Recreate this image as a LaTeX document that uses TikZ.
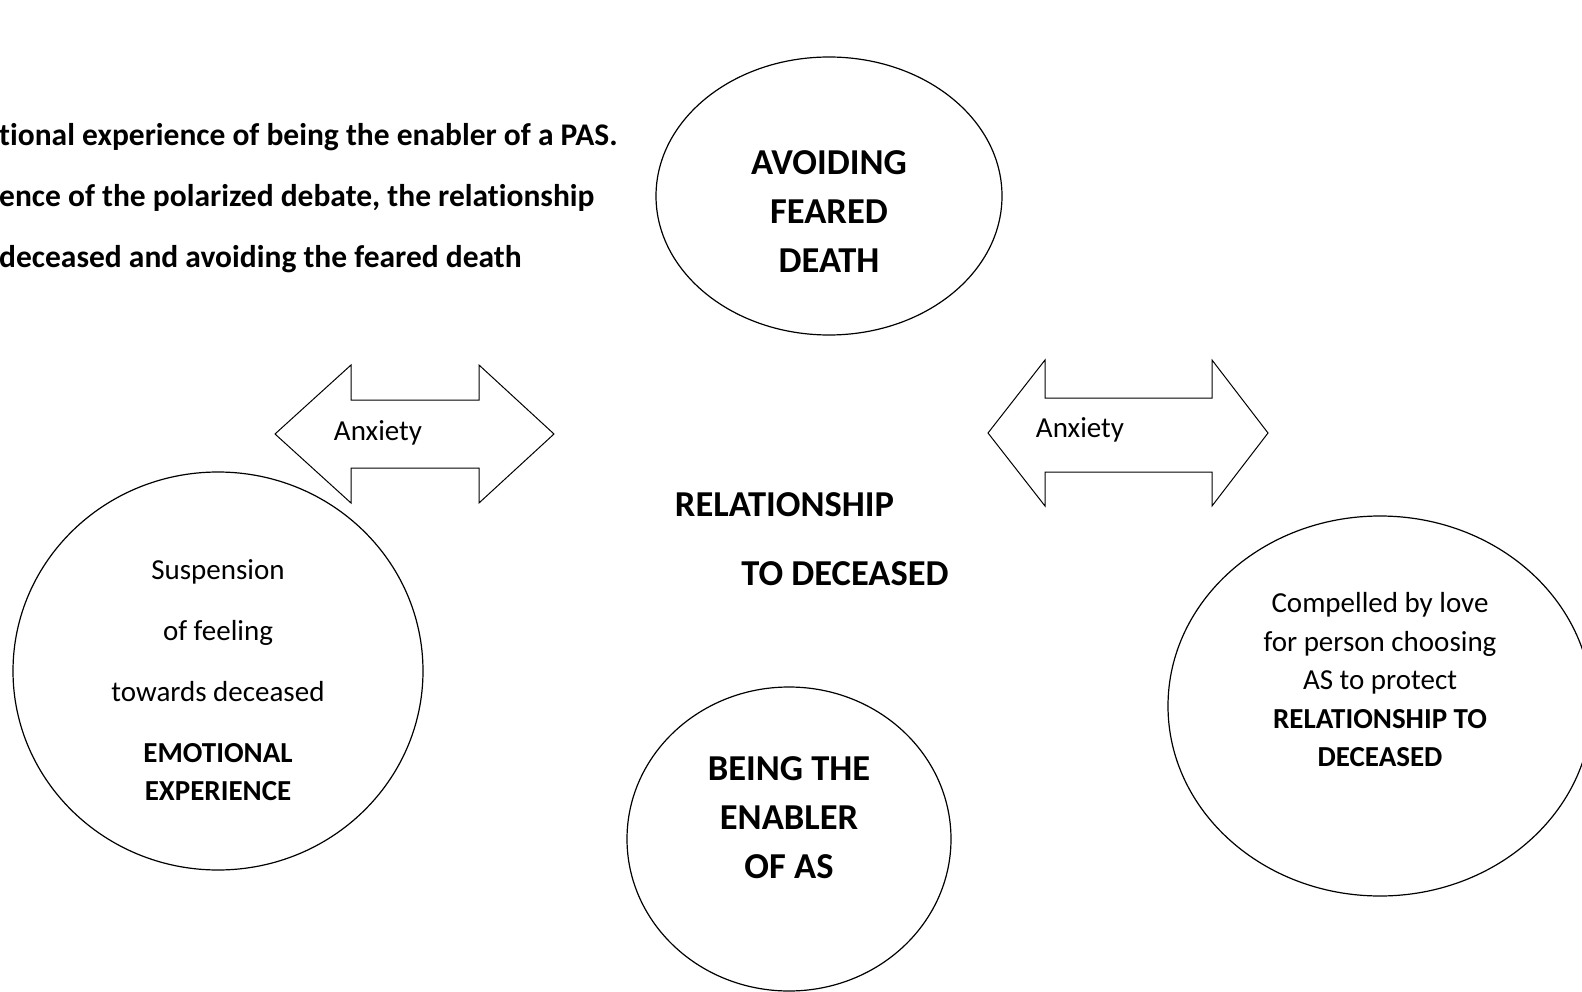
\documentclass[tikz,border=0pt]{standalone}
\usepackage{fontspec}
\setmainfont{Carlito}[Ligatures=NoCommon]
\usetikzlibrary{shapes.geometric}
\begin{document}
\begin{tikzpicture}[x=1pt,y=-1pt,
  ring/.style={draw, ellipse, line width=1.2pt, inner sep=0pt},
  bigbold/.style={font=\fontsize{36.5}{49}\selectfont\bfseries, align=center, inner sep=0pt},
  body/.style={font=\fontsize{29}{38.5}\selectfont, align=center, inner sep=0pt},
  lead/.style={font=\fontsize{31.5}{61}\selectfont\bfseries, align=left, inner sep=0pt},
  twoway/.style={draw, line width=1pt, line join=miter},
]
\useasboundingbox (0,0) rectangle (1582,992);

% heading lines, running off the left edge
\node[lead, anchor=north west] (lead) at (-1,123)
  {tional experience of being the enabler of a PAS.\\
   ence of the polarized debate, the relationship\\
   deceased and avoiding the feared death};

% the four themes
\node[ring, minimum width=346pt, minimum height=278pt] (fear)  at (829,196) {};
\node[ring, minimum width=410pt, minimum height=398pt] (emo)   at (218,671) {};
\node[ring, minimum width=424pt, minimum height=380pt] (love)  at (1380,706) {};
\node[ring, minimum width=324pt, minimum height=304pt] (enab)  at (789,839) {};

\node[bigbold] (feartxt) at (829,212) {AVOIDING\\FEARED\\DEATH};
\node[bigbold] (enabtxt) at (789,818) {BEING THE\\ENABLER\\OF AS};
\node[body] (emotxt) at (218,680)
  {Suspension\\[22.5pt]of feeling\\[22.5pt]towards deceased\\[22.5pt]\textbf{EMOTIONAL}\\\textbf{EXPERIENCE}};
\node[body] (lovetxt) at (1380,680)
  {Compelled by love\\for person choosing\\AS to protect\\\textbf{RELATIONSHIP TO}\\\textbf{DECEASED}};

% central theme
\node[bigbold] (rel1) at (784.5,505) {RELATIONSHIP};
\node[bigbold] (rel2) at (845,574) {TO DECEASED};

% double-headed anxiety arrows
\draw[twoway] (275,434) -- (351,365) -- (351,400) -- (479,400) -- (479,365)
  -- (554,434) -- (479,503) -- (479,468) -- (351,468) -- (351,503) -- cycle;
\node[body] (anx1) at (378,433) {Anxiety};

\draw[twoway] (988,433) -- (1045,360) -- (1045,398) -- (1212,398) -- (1212,360)
  -- (1268,433) -- (1212,506) -- (1212,472) -- (1045,472) -- (1045,506) -- cycle;
\node[body] (anx2) at (1080,430) {Anxiety};
\end{tikzpicture}
\end{document}
